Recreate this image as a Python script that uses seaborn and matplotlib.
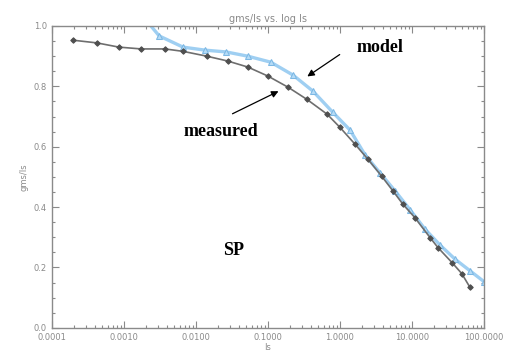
import numpy as np
import pandas as pd
import matplotlib
matplotlib.use("Agg")
import matplotlib.pyplot as plt
import matplotlib.ticker as mticker
import seaborn as sns

# valores (log10 da corrente e gm/Is)
meas_log = [-3.71, -3.375, -3.07, -2.76, -2.43, -2.18, -1.85, -1.56, -1.28, -1.0,
            -0.72, -0.46, -0.18, 0.0, 0.21, 0.39, 0.58, 0.74, 0.875, 1.04,
            1.25, 1.36, 1.56, 1.69, 1.8]
meas_val = [0.953, 0.944, 0.930, 0.924, 0.924, 0.916, 0.900, 0.884, 0.864, 0.834,
            0.797, 0.757, 0.708, 0.664, 0.608, 0.558, 0.502, 0.452, 0.409, 0.365,
            0.299, 0.266, 0.215, 0.180, 0.136]

model_log = [-2.8, -2.51, -2.18, -1.875, -1.58, -1.28, -0.96, -0.65, -0.375, -0.10,
             0.14, 0.35, 0.56, 0.76, 0.97, 1.18, 1.39, 1.6, 1.8, 2.0]
model_val = [1.05, 0.967, 0.930, 0.920, 0.914, 0.900, 0.880, 0.837, 0.784, 0.714,
             0.655, 0.572, 0.512, 0.455, 0.392, 0.327, 0.274, 0.227, 0.19, 0.153]

xticks = [0.0001, 0.001, 0.01, 0.1, 1.0, 10.0, 100.0]
xtick_labels = ["0.0001", "0.0010", "0.0100", "0.1000", "1.0000", "10.0000", "100.0000"]
yticks = [0.0, 0.2, 0.4, 0.6, 0.8, 1.0]

df_meas = pd.DataFrame({"Is": 10 ** np.array(meas_log), "gms": meas_val})
df_model = pd.DataFrame({"Is": 10 ** np.array(model_log), "gms": model_val})

sns.set_style("ticks")
plt.rcParams["font.family"] = ["DejaVu Sans"]

fig = plt.figure(figsize=(5.09, 3.56), dpi=100)
ax = fig.add_axes([0.102, 0.079, 0.849, 0.848])

cinza = "#8a8a8a"
sns.lineplot(data=df_model, x="Is", y="gms", ax=ax, color="#9fcff2", lw=2.4,
             marker="^", markersize=5, markerfacecolor="#b5dbf7",
             markeredgecolor="#7cb8e4")
sns.lineplot(data=df_meas, x="Is", y="gms", ax=ax, color="#6e6e6e", lw=1.2,
             marker="D", markersize=2.8, markerfacecolor="#4f4f4f",
             markeredgecolor="#4f4f4f")

ax.set_xscale("log")
ax.set_xlim(0.0001, 100)
ax.set_ylim(0, 1.0)
ax.set_xticks(xticks)
ax.set_xticklabels(xtick_labels)
ax.set_yticks(yticks)
ax.set_yticklabels([f"{v:.1f}" for v in yticks])
ax.yaxis.set_minor_locator(mticker.MultipleLocator(0.05))
ax.xaxis.set_minor_locator(mticker.LogLocator(base=10, subs=np.arange(2, 10)))
ax.xaxis.set_minor_formatter(mticker.NullFormatter())

ax.tick_params(which="both", direction="in", top=True, right=True,
               colors=cinza, labelcolor=cinza, labelsize=6, width=0.8)
ax.tick_params(which="major", length=5)
ax.tick_params(which="minor", length=2.5)
for s in ax.spines.values():
    s.set_color(cinza)
    s.set_linewidth(1.0)

ax.set_title("gms/Is vs. log Is", fontsize=7, color=cinza, pad=3)
ax.set_xlabel("Is", fontsize=6, color=cinza, labelpad=1)
ax.set_ylabel("gms/Is", fontsize=6, color=cinza, labelpad=4)

fonte = dict(family="Liberation Serif", weight="bold", fontsize=13, color="black")
ax.text(0.705, 0.93, "model", transform=ax.transAxes, ha="left", va="center", **fonte)
ax.text(0.305, 0.65, "measured", transform=ax.transAxes, ha="left", va="center", **fonte)
ax.text(0.395, 0.255, "SP", transform=ax.transAxes, ha="left", va="center", **fonte)

ax.annotate("", xy=(305, 356 - 78), xytext=(342, 356 - 53), xycoords="figure pixels",
            textcoords="figure pixels",
            arrowprops=dict(arrowstyle="-|>", color="black", lw=0.9, mutation_scale=10))
ax.annotate("", xy=(281, 356 - 90), xytext=(230, 356 - 115), xycoords="figure pixels",
            textcoords="figure pixels",
            arrowprops=dict(arrowstyle="-|>", color="black", lw=0.9, mutation_scale=10))

fig.savefig("out.png", dpi=100)
